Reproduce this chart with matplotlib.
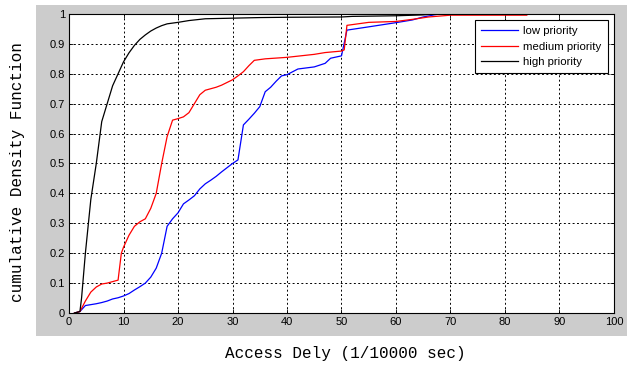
import matplotlib
matplotlib.use("Agg")
import matplotlib.pyplot as plt
from matplotlib.patches import Rectangle

# ---- data ----
low_x = [1, 2, 3, 4, 5, 6, 7, 8, 9, 10, 11, 12, 13, 14, 15, 16, 17, 18, 19, 20,
         21, 22, 23, 24, 25, 26, 27, 28, 29, 30, 31, 32, 33, 34, 35, 36, 37, 38,
         39, 40, 42, 45, 47, 48, 49, 50, 51, 55, 60, 63, 65, 67, 68]
low_y = [0.0, 0.005, 0.025, 0.028, 0.031, 0.035, 0.04, 0.047, 0.051, 0.057, 0.065,
         0.077, 0.088, 0.1, 0.12, 0.15, 0.2, 0.29, 0.315, 0.335, 0.365, 0.378, 0.392,
         0.415, 0.432, 0.444, 0.457, 0.472, 0.486, 0.5, 0.512, 0.629, 0.648, 0.668,
         0.69, 0.74, 0.755, 0.775, 0.793, 0.797, 0.816, 0.823, 0.835, 0.852, 0.856,
         0.86, 0.946, 0.957, 0.971, 0.98, 0.99, 0.997, 1.0]

med_x = [1, 2, 3, 4, 5, 6, 7, 8, 9, 9.6, 10, 11, 12, 13, 14, 15, 16, 17, 18, 19,
         20, 21, 22, 23, 24, 25, 27, 28, 30, 31, 32, 33, 34, 36, 40, 45, 47, 50,
         50.5, 51, 55, 60, 63, 66, 70, 84]
med_y = [0.0, 0.005, 0.04, 0.07, 0.087, 0.097, 0.1, 0.105, 0.11, 0.2, 0.22, 0.26,
         0.29, 0.305, 0.315, 0.35, 0.4, 0.5, 0.59, 0.645, 0.65, 0.656, 0.67, 0.7,
         0.73, 0.745, 0.755, 0.762, 0.78, 0.793, 0.807, 0.827, 0.845, 0.85, 0.855,
         0.865, 0.871, 0.876, 0.88, 0.962, 0.972, 0.975, 0.982, 0.99, 0.996, 0.996]

high_x = [1, 2, 2.3, 3, 4, 5, 6, 7, 8, 9, 10, 11, 12, 13, 14, 15, 16, 17, 18, 20,
          22, 25, 30, 35, 40, 50, 52, 60, 65, 67, 72]
high_y = [0.0, 0.005, 0.05, 0.2, 0.38, 0.5, 0.64, 0.7, 0.76, 0.8, 0.84, 0.87, 0.895,
          0.915, 0.93, 0.943, 0.953, 0.961, 0.967, 0.972, 0.978, 0.984, 0.986, 0.988,
          0.989, 0.99, 0.992, 0.994, 0.997, 1.0, 1.0]

series_labels = ["low priority", "medium priority", "high priority"]
x_ticks = [0, 10, 20, 30, 40, 50, 60, 70, 80, 90, 100]
y_ticks = [0, 0.1, 0.2, 0.3, 0.4, 0.5, 0.6, 0.7, 0.8, 0.9, 1]
y_tick_labels = ["0", "0.1", "0.2", "0.3", "0.4", "0.5", "0.6", "0.7", "0.8", "0.9", "1"]

# ---- figure ----
fig = plt.figure(figsize=(6.31, 3.67), dpi=100)
fig.patch.set_facecolor("white")
fig.patches.append(Rectangle((0.057, 0.0845), 0.9367, 0.902, transform=fig.transFigure,
                             facecolor="#cccccc", edgecolor="none", zorder=-10))

ax = fig.add_axes([0.1094, 0.1471, 0.8636, 0.8148])
ax.set_facecolor("white")

ax.plot(low_x, low_y, color="#0000ff", lw=0.9, label=series_labels[0])
ax.plot(med_x, med_y, color="#ff0000", lw=0.9, label=series_labels[1])
ax.plot(high_x, high_y, color="#000000", lw=0.9, label=series_labels[2])

ax.set_xlim(0, 100)
ax.set_ylim(0, 1)
ax.set_xticks(x_ticks)
ax.set_xticklabels([str(t) for t in x_ticks])
ax.set_yticks(y_ticks)
ax.set_yticklabels(y_tick_labels)
for lab in ax.get_xticklabels() + ax.get_yticklabels():
    lab.set_fontfamily("Liberation Sans")
    lab.set_fontsize(8)
ax.tick_params(direction="in", length=3, width=0.6, top=True, right=True, pad=3)
ax.grid(True, color="black", linestyle=(0, (2, 2.5)), linewidth=0.7)
for s in ax.spines.values():
    s.set_linewidth(0.8)
    s.set_color("black")

leg = ax.legend(loc="upper right", bbox_to_anchor=(0.989, 0.98), borderaxespad=0,
                fancybox=False, framealpha=1, edgecolor="black", handlelength=3.2,
                handletextpad=0.5, borderpad=0.55, labelspacing=0.48,
                prop={"family": "Liberation Sans", "size": 8.2})
leg.get_frame().set_linewidth(0.8)

fig.text(0.547, 0.038, "Access Dely (1/10000 sec)", ha="center", va="center",
         family="Liberation Mono", fontsize=11.5)
fig.text(0.028, 0.53, "cumulative Density Function", ha="center", va="center",
         rotation=90, family="Liberation Mono", fontsize=11.5)

fig.savefig("out.png", dpi=100, facecolor=fig.get_facecolor())
